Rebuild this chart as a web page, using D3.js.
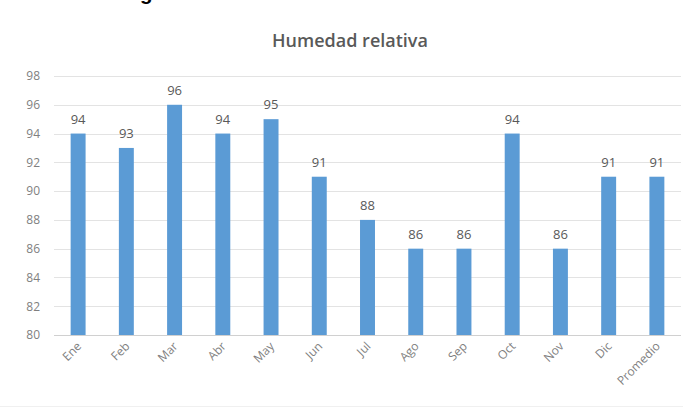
<!DOCTYPE html>
<html>
<head>
<meta charset="utf-8">
<script src="https://cdn.jsdelivr.net/npm/d3@7"></script>
<style>
  body { margin: 0; background: #fff; }
  svg { display: block; }
</style>
</head>
<body>
<script>
  // values
  var meses   = ['Ene', 'Feb', 'Mar', 'Abr', 'May', 'Jun', 'Jul', 'Ago', 'Sep', 'Oct', 'Nov', 'Dic', 'Promedio']
  var humedad = [94, 93, 96, 94, 95, 91, 88, 86, 86, 94, 86, 91, 91]
  var yTicks  = [80, 82, 84, 86, 88, 90, 92, 94, 96, 98]

  var width = 683, height = 412
  var margin = { top: 76, right: 2, bottom: 77, left: 54 }

  var svg = d3.select(document.body).append('svg')
    .attr('width', width)
    .attr('height', height)

  // figure caption, cut off at top of the image (as in the source)
  svg.append('text')
    .attr('x', 476).attr('y', -0.5)
    .attr('text-anchor', 'end')
    .attr('font-family', 'Liberation Sans, Arial, sans-serif')
    .attr('font-weight', 'bold')
    .attr('font-size', 20.5)
    .attr('fill', '#000')
    .text('Figura 6. Datos de Humedad relativa')

  svg.append('text')
    .attr('x', 350).attr('y', 47)
    .attr('text-anchor', 'middle')
    .attr('font-family', 'Open Sans, sans-serif')
    .attr('font-weight', 600)
    .attr('font-size', 18)
    .attr('fill', '#595959')
    .text('Humedad relativa')

  var x = d3.scaleBand()
    .domain(meses)
    .range([margin.left, width - margin.right])
    .paddingInner(0.69)
    .paddingOuter(0.345)

  var y = d3.scaleLinear()
    .domain([80, 98])
    .range([height - margin.bottom, margin.top])

  // grid lines
  svg.append('g')
    .selectAll('line')
    .data(yTicks).enter().append('line')
    .attr('x1', margin.left)
    .attr('x2', width - margin.right)
    .attr('y1', function(d) { return Math.round(y(d)) + 0.5 })
    .attr('y2', function(d) { return Math.round(y(d)) + 0.5 })
    .attr('stroke', function(d) { return d == 80 ? '#d0d0d0' : '#e3e3e3' })
    .attr('stroke-width', 1)

  var yAxis = d3.axisLeft(y).tickValues(yTicks).tickSize(0).tickPadding(14)
  var gy = svg.append('g')
    .attr('transform', 'translate(' + margin.left + ',0)')
    .call(yAxis)
  gy.select('.domain').remove()
  gy.selectAll('text')
    .attr('font-family', 'Open Sans, sans-serif')
    .attr('font-size', 12)
    .attr('fill', '#7f7f7f')

  svg.append('g')
    .selectAll('rect')
    .data(humedad).enter().append('rect')
    .attr('x', function(d, i) { return x(meses[i]) })
    .attr('y', function(d) { return y(d) })
    .attr('width', x.bandwidth())
    .attr('height', function(d) { return y(80) - y(d) })
    .attr('fill', '#5b9bd5')

  svg.append('g')
    .selectAll('text')
    .data(humedad).enter().append('text')
    .attr('x', function(d, i) { return x(meses[i]) + x.bandwidth() / 2 })
    .attr('y', function(d) { return y(d) - 10 })
    .attr('text-anchor', 'middle')
    .attr('font-family', 'Open Sans, sans-serif')
    .attr('font-size', 13)
    .attr('fill', '#595959')
    .text(function(d) { return d })

  var xAxis = d3.axisBottom(x).tickSize(0).tickPadding(0)
  var gx = svg.append('g')
    .attr('transform', 'translate(0,' + (height - margin.bottom) + ')')
    .call(xAxis)
  gx.select('.domain').remove()
  gx.selectAll('text')
    .attr('font-family', 'Open Sans, sans-serif')
    .attr('font-size', 12)
    .attr('fill', '#7f7f7f')
    .attr('text-anchor', 'end')
    .attr('dy', null)
    .attr('transform', 'translate(4,12) rotate(-45)')

  // faint chart area border at bottom
  svg.append('line')
    .attr('x1', 0).attr('x2', width)
    .attr('y1', 406.5).attr('y2', 406.5)
    .attr('stroke', '#f0f0f0')
</script>
</body>
</html>
